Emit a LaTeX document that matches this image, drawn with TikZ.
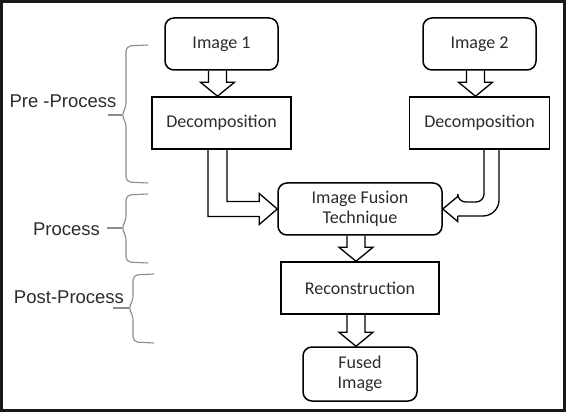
\documentclass[tikz,border=0pt]{standalone}
\usepackage{fontspec}
\setmainfont{Carlito}
\newfontfamily\lblfont{Liberation Sans}
\usepackage{xcolor}
\usetikzlibrary{calc}
\definecolor{txtgray}{HTML}{2C2C2C}
\definecolor{brcgray}{HTML}{8C8C8C}
\tikzset{
  box/.style={draw=black,line width=1.5pt,minimum height=52pt,inner sep=0pt,
    text=txtgray,font=\fontsize{18}{20}\selectfont,align=center},
  rbox/.style={box,rounded corners=9pt},
  harr/.style={line width=1.3pt,line join=miter},
  brc/.style={draw=brcgray,line width=1.1pt,rounded corners=5pt},
  lbl/.style={text=txtgray,font=\lblfont\fontsize{18.5}{20}\selectfont,inner sep=0pt}
}
% hollow block arrow, straight down from #1 to #2
\newcommand{\harrdown}[2]{%
  \draw[harr] ($(#1.south)+(-13,0)$) -- ($(#2.north)+(-13,-14)$) -- ($(#2.north)+(-21,-14)$)
    -- ($(#2.north)+(-4,0)$) -- ($(#2.north)+(13,-14)$) -- ($(#2.north)+(5,-14)$) -- ($(#1.south)+(5,0)$);}
% stage brace: arm x, back x, tip x, top y, tip y, bottom y
\newcommand{\stagebrace}[6]{%
  \draw[brc] (#1,#4) -- (#2,#4+1) -- (#2,#5-7) -- (#2-5,#5) -- (#2,#5+7) -- (#2,#6-1) -- (#1,#6);
  \draw[brc] (#2-4,#5) -- (#3,#5);}

\begin{document}
\begin{tikzpicture}[x=1pt,y=-1pt]
\useasboundingbox (0,0) rectangle (568,414);
\draw[line width=3pt,draw=black!90] (1.5,1.5) rectangle (564,410.5);

\node[rbox,minimum width=113pt] (img1) at (221.5,44) {Image 1};
\node[rbox,minimum width=113pt] (img2) at (479.5,44) {Image 2};
\node[box,minimum width=139pt] (dec1) at (221.5,123) {Decomposition};
\node[box,minimum width=140pt] (dec2) at (479.5,123) {Decomposition};
\node[rbox,minimum width=164pt] (fus) at (360,209) {Image Fusion\\Technique};
\node[box,minimum width=158pt] (rec) at (360,288) {Reconstruction};
\node[rbox,minimum width=114pt,minimum height=54pt] (out) at (360,374) {Fused\\Image};

\harrdown{img1}{dec1}
\harrdown{img2}{dec2}
\harrdown{fus}{rec}
\harrdown{rec}{out}

% bent arrows into the fusion box
\draw[harr] ($(dec1.south)+(-13.5,0)$) |- ($(fus.west)+(-18,7.5)$) -- ($(fus.west)+(-18,15.5)$)
  -- (fus.west) -- ($(fus.west)+(-18,-15.5)$) -- ($(fus.west)+(-18,-7.5)$) -| ($(dec1.south)+(5.5,0)$);
\draw[harr] ($(dec2.south)+(4.5,0)$) [rounded corners=8pt] |- ($(fus.east)+(15,-7)$)
  [sharp corners] -- ($(fus.east)+(15,-12.5)$) -- (fus.east) -- ($(fus.east)+(15,12.5)$) -- ($(fus.east)+(15,7)$);
\draw[harr,rounded corners=16pt] ($(fus.east)+(15,7)$) -| ($(dec2.south)+(19.5,0)$);

% stage braces
\stagebrace{148}{126}{108}{45}{115}{183}
\stagebrace{148}{126}{107}{194}{228}{263}
\stagebrace{154}{133}{113}{274}{308}{343}
\node[lbl] (lpre) at (63,101) {Pre -Process};
\node[lbl] (lpro) at (66.5,229) {Process};
\node[lbl] (lpost) at (69,297) {Post-Process};
\end{tikzpicture}
\end{document}
